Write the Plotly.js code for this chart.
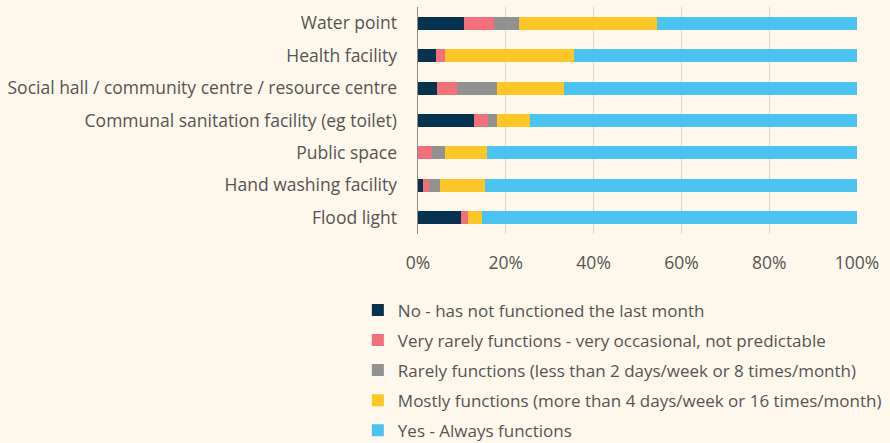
<!DOCTYPE html>
<html>
<head>
<meta charset="utf-8">
<script src="https://cdn.plot.ly/plotly-3.0.1.min.js"></script>
<style>html,body{margin:0;padding:0;background:#fdf7ec;}#chart{width:890px;height:443px;}</style>
</head>
<body>
<div id="chart"></div>
<script>
const categories = ["Water point","Health facility","Social hall / community centre / resource centre","Communal sanitation facility (eg toilet)","Public space","Hand washing facility","Flood light"];
const seriesNames = ["No - has not functioned the last month","Very rarely functions - very occasional, not predictable","Rarely functions (less than 2 days/week or 8 times/month)","Mostly functions (more than 4 days/week or 16 times/month)","Yes - Always functions"];
const noFunc =      [0.104, 0.041, 0.044, 0.128, 0.000, 0.012, 0.097];
const veryRarely =  [0.069, 0.021, 0.044, 0.031, 0.031, 0.013, 0.016];
const rarely =      [0.056, 0.000, 0.091, 0.021, 0.031, 0.026, 0.000];
const mostly =      [0.316, 0.293, 0.154, 0.075, 0.095, 0.101, 0.033];
const always =      [0.455, 0.645, 0.667, 0.745, 0.843, 0.848, 0.854];
const colors = ["#06324f","#f1707a","#919191","#fbc626","#4bc3f1"];

const series = [noFunc, veryRarely, rarely, mostly, always];
const traces = series.map((vals, i) => ({
  type: "bar", orientation: "h",
  y: categories, x: vals, name: seriesNames[i],
  legendgroup: "g" + i,
  marker: {color: colors[i], line: {width: 0}},
  hoverinfo: "x+name"
}));

const fam = "'Open Sans', Lato, sans-serif";
const font = {family: fam, size: 17.5, color: "#555555"};
const layout = {
  width: 890, height: 443,
  barmode: "stack", bargap: 0.6,
  paper_bgcolor: "#fdf7ec", plot_bgcolor: "#fdf7ec",
  font: font,
  margin: {l: 418, r: 33, t: 7, b: 209, pad: 0, autoexpand: false},
  showlegend: true,
  legend: {x: -0.137, xanchor: "left", y: -0.257, yanchor: "top", orientation: "v",
           font: {family: fam, size: 17, color: "#555555"},
           bgcolor: "rgba(0,0,0,0)", traceorder: "grouped", tracegroupgap: 5, itemclick: false},
  xaxis: {range: [0, 1], tickformat: ".0%", dtick: 0.2, showgrid: true, gridcolor: "#d9d6d0", gridwidth: 1,
          zeroline: false, showline: false, ticks: "", tickfont: font, ticklabelstandoff: 16, fixedrange: true},
  yaxis: {autorange: "reversed", showline: true, linecolor: "#8a8a8a", linewidth: 1.5, ticks: "", showgrid: false,
          ticklabelstandoff: 16, tickfont: font, fixedrange: true}
};
Plotly.newPlot("chart", traces, layout, {displayModeBar: false, staticPlot: true});
</script>
</body>
</html>
